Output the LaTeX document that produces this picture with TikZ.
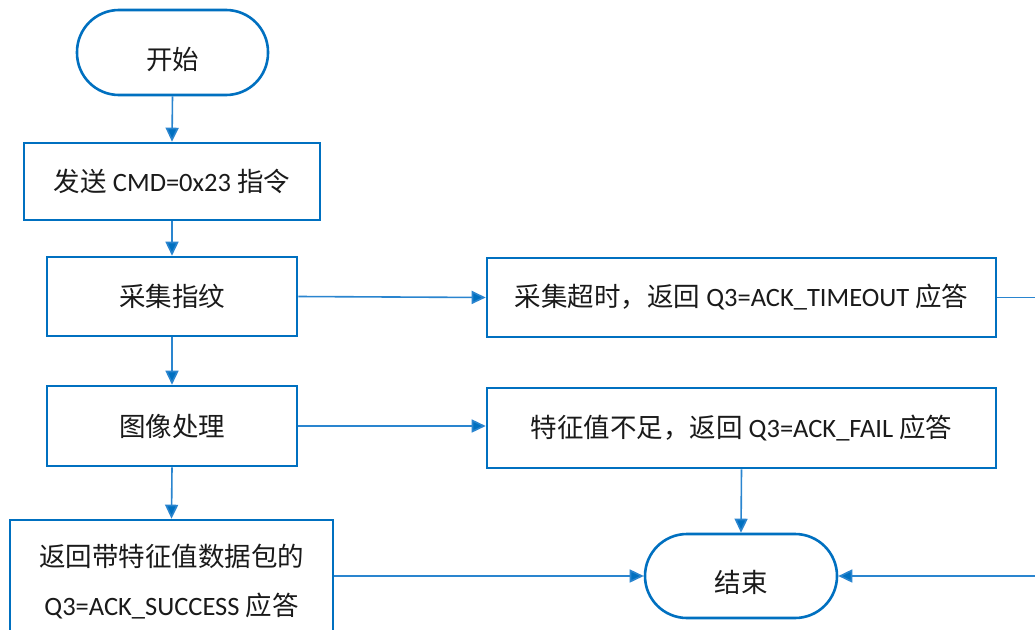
\documentclass[tikz,border=0pt]{standalone}
\usepackage{fontspec}
\setmainfont{Carlito}
\newfontfamily\cjk{Noto Sans CJK SC}
\usetikzlibrary{arrows.meta,calc}
\definecolor{bord}{HTML}{0070C0}
\definecolor{conn}{HTML}{2A85CF}
\definecolor{txt}{HTML}{1A1A1A}
\tikzset{
  every node/.style={font=\fontsize{26.5}{49}\selectfont, text=txt},
  procbox/.style={draw=bord, line width=2.6pt, fill=white, inner sep=0pt, align=center},
  termbox/.style={draw=bord, line width=2.6pt, fill=white, inner sep=0pt, rounded corners=42pt, align=center},
  termtext/.style={draw=none, fill=none, inner sep=0pt},
  flow/.style={draw=conn, line width=1.6pt, -{Triangle[length=14pt,width=13pt,fill=bord]}},
}
\begin{document}
\begin{tikzpicture}[x=1pt,y=-1pt]
\useasboundingbox (0,0) rectangle (1035,629);
\clip (0,0) rectangle (1035,629);
\fill[white] (0,0) rectangle (1035,629);
\node[termbox, minimum width=191pt, minimum height=85pt,
      label={[termtext, yshift=-7pt]center:{\cjk 开始}}] (start) at (172.5,52.5) {};
\node[procbox, minimum width=296pt, minimum height=77pt] (send) at (172,181.5) {{\cjk 发送} CMD=0x23 {\cjk 指令}};
\node[procbox, minimum width=250pt, minimum height=79pt] (collect) at (172,296.5) {\cjk 采集指纹};
\node[procbox, minimum width=250pt, minimum height=80pt] (image) at (172,426) {\cjk 图像处理};
\node[procbox, minimum width=323pt, minimum height=123pt] (success) at (171.5,581.5) {{\cjk 返回带特征值数据包的}\\Q3=ACK\_SUCCESS {\cjk 应答}};
\node[procbox, minimum width=509pt, minimum height=79pt] (timeout) at (741.5,297.5) {{\cjk 采集超时，返回} Q3=ACK\_TIMEOUT {\cjk 应答}};
\node[procbox, minimum width=509pt, minimum height=80pt] (fail) at (741.5,428) {{\cjk 特征值不足，返回} Q3=ACK\_FAIL {\cjk 应答}};
\node[termbox, minimum width=192pt, minimum height=84pt,
      label={[termtext, yshift=-6pt]center:{\cjk 结束}}] (end) at (741,576) {};
\coordinate (far) at (1050,0);
\draw[flow] (start.south) -- (send.north);
\draw[flow] (send.south) -- (collect.north);
\draw[flow] (collect.south) -- (image.north);
\draw[flow] (image.south) -- (success.north);
\draw[flow] (collect.east) -- (timeout.west);
\draw[flow] (image.east) -- (image.east -| fail.west);
\draw[flow] (fail.south) -- (end.north);
\draw[flow] (end.west -| success.east) -- (end.west);
\draw[flow] (timeout.east) -- (timeout.east -| far) -- (far |- end.east) -- (end.east);
\end{tikzpicture}
\end{document}
